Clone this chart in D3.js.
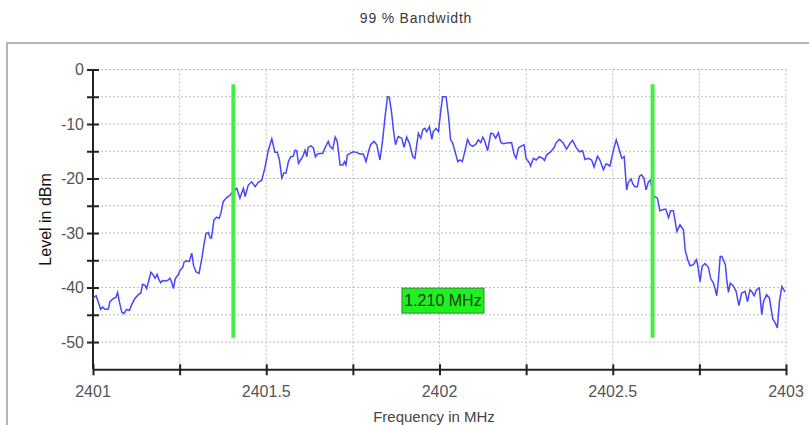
<!DOCTYPE html>
<meta charset="utf-8">
<style>
body { margin: 0; background: #fff; }
svg { display: block; font-family: "Liberation Sans", Arial, sans-serif; }
.grid line { stroke: #bdbdbd; stroke-width: 1; stroke-dasharray: 2,2; }
.axis line, .axis path { stroke: #222; }
.tick-label { fill: #555; font-size: 16px; }
</style>
<svg width="809" height="425"></svg>
<script src="https://d3js.org/d3.v7.min.js"></script>
<script>
// trace (MHz / dBm)
var freqMHz = [
  2401.001, 2401.009, 2401.015, 2401.022, 2401.028, 2401.035, 2401.044, 2401.049, 2401.059, 2401.066,
  2401.071, 2401.076, 2401.083, 2401.089, 2401.097, 2401.105, 2401.112, 2401.121, 2401.131, 2401.138,
  2401.143, 2401.150, 2401.155, 2401.161, 2401.167, 2401.174, 2401.179, 2401.185, 2401.190, 2401.195,
  2401.201, 2401.208, 2401.215, 2401.222, 2401.227, 2401.232, 2401.237, 2401.241, 2401.246, 2401.251,
  2401.259, 2401.263, 2401.270, 2401.278, 2401.285, 2401.290, 2401.297, 2401.306, 2401.314, 2401.320,
  2401.326, 2401.333, 2401.338, 2401.342, 2401.349, 2401.357, 2401.364, 2401.369, 2401.376, 2401.386,
  2401.395, 2401.403, 2401.415, 2401.424, 2401.434, 2401.439, 2401.448, 2401.458, 2401.468, 2401.477,
  2401.487, 2401.496, 2401.506, 2401.516, 2401.525, 2401.532, 2401.538, 2401.545, 2401.551, 2401.557,
  2401.564, 2401.571, 2401.578, 2401.583, 2401.588, 2401.593, 2401.599, 2401.605, 2401.612, 2401.617,
  2401.621, 2401.629, 2401.636, 2401.642, 2401.648, 2401.655, 2401.663, 2401.670, 2401.679, 2401.684,
  2401.692, 2401.699, 2401.705, 2401.713, 2401.721, 2401.726, 2401.730, 2401.734, 2401.742, 2401.751,
  2401.761, 2401.770, 2401.780, 2401.788, 2401.795, 2401.801, 2401.811, 2401.819, 2401.828, 2401.836,
  2401.843, 2401.850, 2401.855, 2401.862, 2401.867, 2401.873, 2401.881, 2401.891, 2401.898, 2401.905,
  2401.913, 2401.923, 2401.929, 2401.939, 2401.946, 2401.952, 2401.958, 2401.963, 2401.971, 2401.978,
  2401.982, 2401.990, 2401.997, 2402.004, 2402.009, 2402.019, 2402.026, 2402.032, 2402.038, 2402.045,
  2402.053, 2402.059, 2402.066, 2402.074, 2402.081, 2402.088, 2402.096, 2402.105, 2402.112, 2402.119,
  2402.125, 2402.131, 2402.139, 2402.148, 2402.155, 2402.162, 2402.170, 2402.177, 2402.184, 2402.194,
  2402.208, 2402.215, 2402.221, 2402.228, 2402.237, 2402.244, 2402.250, 2402.261, 2402.263, 2402.271,
  2402.279, 2402.288, 2402.298, 2402.303, 2402.309, 2402.321, 2402.330, 2402.336, 2402.346, 2402.356,
  2402.367, 2402.377, 2402.384, 2402.394, 2402.404, 2402.413, 2402.420, 2402.430, 2402.439, 2402.446,
  2402.456, 2402.463, 2402.473, 2402.481, 2402.492, 2402.502, 2402.510, 2402.517, 2402.526, 2402.533,
  2402.540, 2402.545, 2402.553, 2402.558, 2402.564, 2402.571, 2402.577, 2402.583, 2402.590, 2402.596,
  2402.603, 2402.608, 2402.619, 2402.629, 2402.636, 2402.646, 2402.653, 2402.661, 2402.667, 2402.675,
  2402.685, 2402.694, 2402.704, 2402.709, 2402.716, 2402.723, 2402.733, 2402.741, 2402.745, 2402.752,
  2402.758, 2402.766, 2402.776, 2402.783, 2402.790, 2402.795, 2402.800, 2402.805, 2402.810, 2402.815,
  2402.825, 2402.829, 2402.834, 2402.839, 2402.848, 2402.856, 2402.864, 2402.872, 2402.882, 2402.889,
  2402.896, 2402.901, 2402.908, 2402.915, 2402.923, 2402.930, 2402.935, 2402.944, 2402.952, 2402.962,
  2402.969, 2402.975, 2402.981, 2402.988, 2402.997
];
var levelDbm = [
  -41.9, -41.5, -42.6, -44.0, -43.6, -44.0, -44.0, -42.6, -42.0, -41.8,
  -40.9, -42.6, -44.5, -44.8, -44.0, -44.2, -43.1, -42.0, -41.3, -41.0,
  -39.4, -39.6, -40.2, -38.7, -37.2, -37.7, -38.3, -37.6, -38.5, -39.1,
  -38.7, -38.8, -38.7, -38.3, -39.0, -40.2, -38.5, -38.0, -37.7, -36.8,
  -36.3, -35.3, -35.1, -35.2, -33.7, -35.9, -37.1, -37.4, -34.7, -32.2,
  -30.1, -29.9, -30.9, -30.9, -27.6, -27.1, -27.3, -26.4, -24.2, -23.5,
  -23.1, -22.4, -21.8, -23.6, -21.8, -23.3, -21.2, -20.6, -21.5, -20.7,
  -20.3, -18.1, -14.8, -12.7, -15.2, -15.2, -16.6, -19.9, -19.0, -19.0,
  -16.9, -16.0, -15.9, -14.8, -14.9, -17.2, -16.6, -16.0, -14.8, -16.0,
  -14.3, -14.0, -14.4, -16.0, -15.5, -15.4, -15.4, -14.3, -13.2, -14.1,
  -14.6, -12.4, -13.2, -17.5, -17.5, -16.9, -17.5, -15.7, -15.4, -15.1,
  -15.2, -15.5, -15.5, -16.9, -15.1, -13.8, -13.2, -13.8, -16.6, -12.9,
  -8.6, -5.0, -5.1, -8.0, -11.1, -13.8, -12.3, -12.6, -14.3, -12.4,
  -13.5, -16.0, -16.3, -11.7, -12.6, -11.0, -10.8, -11.4, -10.5, -12.8,
  -11.4, -10.8, -11.4, -7.4, -5.0, -5.0, -8.6, -12.9, -13.5, -15.1,
  -16.9, -16.6, -16.9, -14.8, -12.8, -13.8, -14.1, -13.7, -12.9, -13.4,
  -12.4, -13.2, -14.9, -11.7, -11.8, -12.6, -11.6, -13.4, -13.6, -13.5,
  -13.4, -15.5, -16.3, -14.4, -14.0, -13.8, -16.3, -17.3, -17.7, -16.3,
  -16.6, -16.0, -16.3, -16.7, -15.7, -15.1, -14.4, -13.5, -12.8, -13.4,
  -14.6, -13.5, -13.0, -14.3, -15.1, -14.9, -16.5, -16.3, -16.6, -17.9,
  -15.9, -16.6, -18.4, -17.3, -17.7, -14.8, -12.9, -14.3, -16.3, -16.0,
  -22.1, -20.7, -20.1, -21.0, -21.5, -21.5, -19.6, -19.3, -19.9, -22.1,
  -20.6, -20.3, -23.3, -23.6, -25.9, -25.7, -25.6, -27.2, -25.9, -25.9,
  -29.7, -28.5, -29.4, -33.1, -34.8, -36.0, -35.8, -34.9, -35.8, -38.9,
  -36.1, -35.6, -36.3, -38.4, -39.1, -40.1, -41.5, -38.6, -34.3, -34.3,
  -35.8, -38.6, -40.9, -39.2, -39.7, -40.7, -43.3, -41.0, -40.7, -42.6,
  -40.4, -40.7, -41.5, -40.4, -40.1, -45.0, -42.6, -41.3, -41.9, -45.8,
  -46.5, -47.4, -42.6, -39.8, -40.8
];

// 99 % occupied bandwidth markers
var obwEdges = [2401.405, 2402.615];
var obwMarkerDbm = [-2.7, -49.2];
var obwLabel = "1.210 MHz";
var obwLabelPos = [2402.01, -42.4];

var xTicks = [2401, 2401.25, 2401.5, 2401.75, 2402, 2402.25, 2402.5, 2402.75, 2403];
var xTickLabels = [2401, 2401.5, 2402, 2402.5, 2403];
var yTicks = [0, -5, -10, -15, -20, -25, -30, -35, -40, -45, -50];
var yTickLabels = [0, -10, -20, -30, -40, -50];

var svg = d3.select("svg");

// outer frame
svg.append("rect")
    .attr("x", 7).attr("y", 43)
    .attr("width", 830).attr("height", 420)
    .attr("fill", "#fff")
    .attr("stroke", "#b4b4b4")
    .attr("stroke-width", 2);

svg.append("text")
    .attr("x", 416).attr("y", 23)
    .attr("text-anchor", "middle")
    .attr("font-size", 14)
    .attr("letter-spacing", 0.8)
    .attr("fill", "#3a3a3a")
    .text("99 % Bandwidth");

var x = d3.scaleLinear().domain([2401, 2403]).range([93, 786]);
var y = d3.scaleLinear().domain([-55, 0]).range([369.3, 69.5]);

// dotted grid
var grid = svg.append("g").attr("class", "grid");
grid.selectAll(".h").data(yTicks).enter().append("line")
    .attr("x1", x(2401)).attr("x2", x(2403))
    .attr("y1", function(d) { return y(d); })
    .attr("y2", function(d) { return y(d); });
grid.selectAll(".v").data(xTicks.slice(1)).enter().append("line")
    .attr("x1", function(d) { return x(d); })
    .attr("x2", function(d) { return x(d); })
    .attr("y1", y(0)).attr("y2", y(-55));

// axes
var yAxis = svg.append("g")
    .attr("class", "axis")
    .attr("transform", "translate(" + x(2401) + ",0)")
    .call(d3.axisLeft(y).tickValues(yTicks).tickSizeInner(6).tickSizeOuter(0).tickFormat(""));
yAxis.select(".domain").attr("d", "M0," + y(0) + "V" + y(-55)).attr("stroke-width", 2);
yAxis.selectAll(".tick line").attr("x1", -6).attr("x2", 6).attr("stroke-width", 2);

var xAxis = svg.append("g")
    .attr("class", "axis")
    .attr("transform", "translate(0," + y(-55) + ")")
    .call(d3.axisBottom(x).tickValues(xTicks).tickSizeInner(6).tickSizeOuter(0).tickFormat(""));
xAxis.select(".domain").attr("stroke-width", 2);
xAxis.selectAll(".tick line").attr("y1", -5).attr("y2", 6).attr("stroke-width", 2);

svg.append("g").selectAll("text").data(yTickLabels).enter().append("text")
    .attr("class", "tick-label")
    .attr("x", x(2401) - 9)
    .attr("y", function(d) { return y(d) + 5.5; })
    .attr("text-anchor", "end")
    .text(function(d) { return d; });

svg.append("g").selectAll("text").data(xTickLabels).enter().append("text")
    .attr("class", "tick-label")
    .attr("x", function(d) { return x(d); })
    .attr("y", 397)
    .attr("text-anchor", "middle")
    .text(function(d) { return d; });

svg.append("text")
    .attr("transform", "translate(51," + ((y(0) + y(-55)) / 2) + ") rotate(-90)")
    .attr("text-anchor", "middle")
    .attr("font-size", 16)
    .attr("fill", "#111")
    .text("Level in dBm");

svg.append("text")
    .attr("x", 434).attr("y", 422)
    .attr("text-anchor", "middle")
    .attr("font-size", 15)
    .attr("fill", "#444")
    .text("Frequency in MHz");

// spectrum trace
var trace = freqMHz.map(function(f, i) { return [f, levelDbm[i]]; });
svg.append("path")
    .datum(trace)
    .attr("fill", "none")
    .attr("stroke", "#4747ff")
    .attr("stroke-width", 1.5)
    .attr("d", d3.line()
        .x(function(d) { return x(d[0]); })
        .y(function(d) { return y(d[1]); }));

// bandwidth markers
svg.append("g").selectAll("line").data(obwEdges).enter().append("line")
    .attr("x1", function(d) { return x(d); })
    .attr("x2", function(d) { return x(d); })
    .attr("y1", y(obwMarkerDbm[0]))
    .attr("y2", y(obwMarkerDbm[1]))
    .attr("stroke", "#45ee45")
    .attr("stroke-width", 4);

var lbl = svg.append("g")
    .attr("transform", "translate(" + x(obwLabelPos[0]) + "," + y(obwLabelPos[1]) + ")");
lbl.append("rect")
    .attr("x", -41).attr("y", -12.5)
    .attr("width", 82).attr("height", 25)
    .attr("fill", "#1ff01f")
    .attr("stroke", "#2f8a2f")
    .attr("stroke-width", 1);
lbl.append("text")
    .attr("text-anchor", "middle")
    .attr("y", 5.5)
    .attr("font-size", 16)
    .attr("fill", "#1a3a1a")
    .text(obwLabel);
</script>
